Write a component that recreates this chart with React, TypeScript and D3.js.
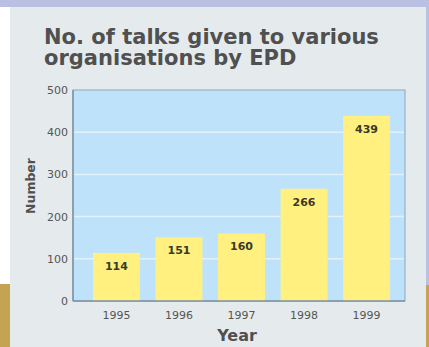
import React from "react";
import * as d3 from "d3";

const years = ["1995", "1996", "1997", "1998", "1999"];
const talks = [114, 151, 160, 266, 439];
const yTicks = [0, 100, 200, 300, 400, 500];
const titleLines = ["No. of talks given to various", "organisations by EPD"];

export default function App() {
  const W = 429, H = 347;
  const plot = { left: 73, right: 405, top: 90, bottom: 301 };
  const x = d3.scaleBand<string>().domain(years).range([93, 390]).paddingInner(0.25).paddingOuter(0);
  const y = d3.scaleLinear().domain([0, 500]).range([plot.bottom, plot.top]);
  const font = "'DejaVu Sans', sans-serif";
  return (
    <svg width={W} height={H} style={{ position: "absolute", left: 0, top: 0 }}>
      <rect x={0} y={0} width={W} height={H} fill="#e5ebed" />
      <rect x={0} y={0} width={W} height={7} fill="#b9c0e2" />
      <rect x={426} y={0} width={3} height={285} fill="#b9c0e2" />
      <rect x={426} y={285} width={3} height={62} fill="#c4a452" />
      <rect x={0} y={284} width={10} height={63} fill="#c4a452" />
      <rect x={0} y={7} width={10} height={277} fill="#ffffff" />
      {titleLines.map((t, i) => (
        <text key={i} x={44} y={44 + i * 21} fontFamily={font} fontWeight={700} fontSize={21} fill="#505050">{t}</text>
      ))}
      <rect x={plot.left} y={plot.top} width={plot.right - plot.left} height={plot.bottom - plot.top} fill="#bee2fa" stroke="#8fa5b8" strokeWidth={1} />
      {yTicks.filter((t) => t > 0 && t < 500).map((t) => (
        <line key={t} x1={plot.left + 1} x2={plot.right - 1} y1={y(t)} y2={y(t)} stroke="#e2f2fd" strokeWidth={1.5} />
      ))}
      {talks.map((v, i) => (
        <g key={years[i]}>
          <rect x={x(years[i])} y={y(v)} width={x.bandwidth()} height={y(0) - y(v)} fill="#fff07f" />
          <text x={(x(years[i]) as number) + x.bandwidth() / 2} y={y(v) + 17} textAnchor="middle" fontFamily={font} fontWeight={600} fontSize={11} fill="#3a3a2a">{v}</text>
        </g>
      ))}
      <line x1={plot.left} x2={plot.right} y1={plot.bottom} y2={plot.bottom} stroke="#7d93a6" strokeWidth={1.5} />
      <line x1={plot.left} x2={plot.left} y1={plot.top} y2={plot.bottom} stroke="#7d93a6" strokeWidth={1.5} />
      {yTicks.map((t) => (
        <text key={t} x={68} y={y(t) + 4} textAnchor="end" fontFamily={font} fontSize={11} fill="#555">{t}</text>
      ))}
      {years.map((yr) => (
        <text key={yr} x={(x(yr) as number) + x.bandwidth() / 2} y={319} textAnchor="middle" fontFamily={font} fontSize={11} fill="#555">{yr}</text>
      ))}
      <text x={237} y={341} textAnchor="middle" fontFamily={font} fontWeight={700} fontSize={16} fill="#505050">Year</text>
      <text transform={`translate(35,186) rotate(-90)`} textAnchor="middle" fontFamily={font} fontWeight={700} fontSize={12.5} fill="#505050">Number</text>
    </svg>
  );
}
